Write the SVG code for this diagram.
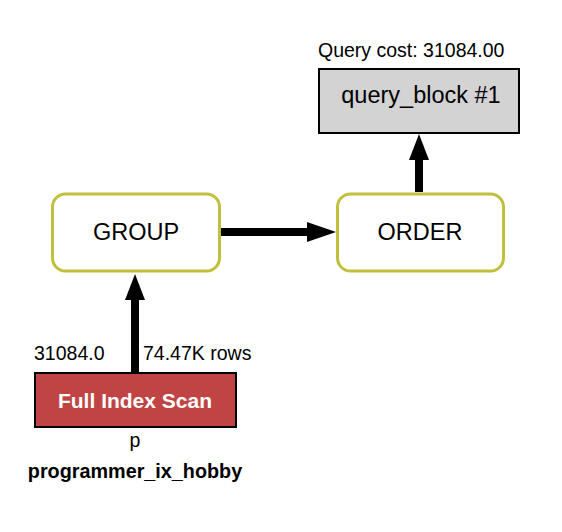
<svg xmlns="http://www.w3.org/2000/svg" width="562" height="532" viewBox="0 0 562 532">
<style>
text{font-family:"Liberation Sans",Arial,Helvetica,sans-serif;fill:#000}
.op{fill:#fff;stroke:#c0c03c;stroke-width:3}
.big{font-size:23.5px;text-anchor:middle}
.lbl{font-size:19.5px}
.conn{stroke:#000;stroke-width:8;fill:none}
.head{fill:#000}
</style>
<rect width="562" height="532" fill="#fff"/>
<g id="connectors">
<line class="conn" x1="135" y1="372" x2="135" y2="298"/>
<polygon class="head" points="135,274 145,300 125,300"/>
<line class="conn" x1="221" y1="232" x2="310" y2="232"/>
<polygon class="head" points="336,232 307,222 307,242"/>
<line class="conn" x1="419" y1="192" x2="419" y2="158"/>
<polygon class="head" points="419,134 429,160 409,160"/>
<text class="lbl" x="34" y="360">31084.0</text>
<text class="lbl" x="143" y="360">74.47K rows</text>
</g>
<g id="query_block">
<text class="lbl" x="318" y="57">Query cost: 31084.00</text>
<rect x="319" y="69" width="200" height="64" fill="#d3d3d3" stroke="#000" stroke-width="2"/>
<text class="big" x="421" y="103">query_block #1</text>
</g>
<g id="order">
<rect class="op" x="337.5" y="194" width="166" height="77" rx="13"/>
<text class="big" x="420" y="240">ORDER</text>
</g>
<g id="group">
<rect class="op" x="52.5" y="194" width="167" height="77" rx="13"/>
<text class="big" x="136" y="240">GROUP</text>
</g>
<g id="scan">
<rect x="35" y="373" width="201" height="54" fill="#c14444" stroke="#000" stroke-width="2"/>
<text x="135" y="408" style="font-size:21px;font-weight:bold;fill:#fff;text-anchor:middle">Full Index Scan</text>
<text class="lbl" x="135" y="447" text-anchor="middle">p</text>
<text x="135" y="478" style="font-size:19.8px;font-weight:bold;text-anchor:middle">programmer_ix_hobby</text>
</g>
</svg>
